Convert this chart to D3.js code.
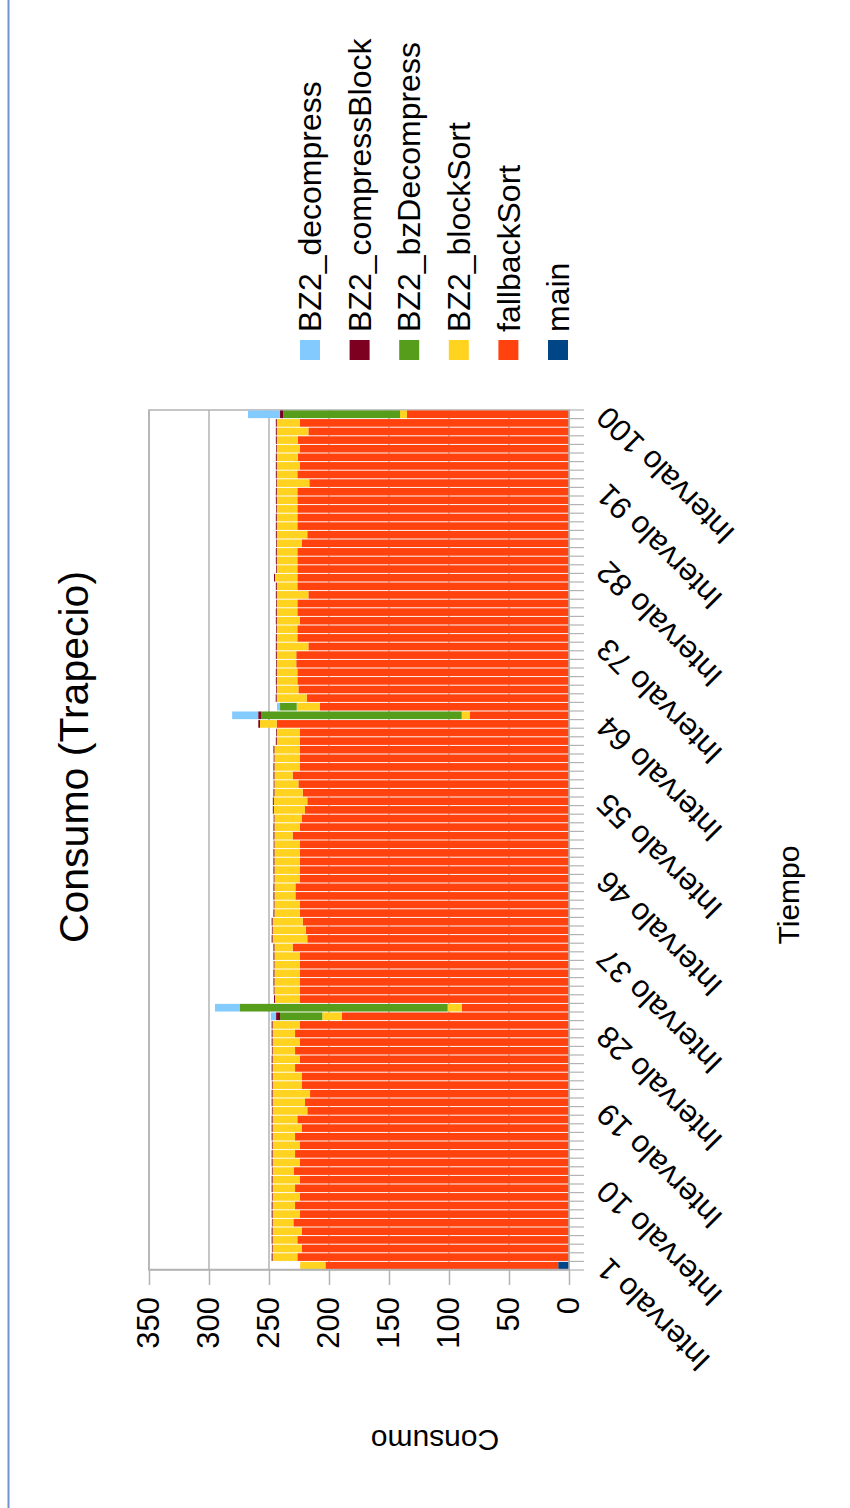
<!DOCTYPE html>
<html>
<head>
<meta charset="utf-8">
<script src="https://cdn.jsdelivr.net/npm/d3@7"></script>
<style>
  html, body { margin: 0; padding: 0; background: #ffffff; }
  svg { display: block; font-family: "Liberation Sans", Arial, sans-serif; }
</style>
</head>
<body>
<svg id="chart" width="850" height="1508"></svg>
<script>
// ---- data ----
const categories = d3.range(1, 101).map(i => "Intervalo " + i);
const shownLabels = ["Intervalo 1", "Intervalo 10", "Intervalo 19", "Intervalo 28", "Intervalo 37",
  "Intervalo 46", "Intervalo 55", "Intervalo 64", "Intervalo 73", "Intervalo 82", "Intervalo 91", "Intervalo 100"];
const valueTicks = [0, 50, 100, 150, 200, 250, 300, 350];

const seriesNames = ["main", "fallbackSort", "BZ2_blockSort", "BZ2_bzDecompress", "BZ2_compressBlock", "BZ2_decompress"];
const seriesColors = ["#004586", "#ff420e", "#ffd320", "#579d1c", "#7e0021", "#83caff"];

const mainValues = [
  9, 0, 0, 0, 0, 0, 0, 0, 0, 0,
  0, 0, 0, 0, 0, 0, 0, 0, 0, 0,
  0, 0, 0, 0, 0, 0, 0, 0, 0, 0,
  0, 0, 0, 0, 0, 0, 0, 0, 0, 0,
  0, 0, 0, 0, 0, 0, 0, 0, 0, 0,
  0, 0, 0, 0, 0, 0, 0, 0, 0, 0,
  0, 0, 0, 0, 0, 0, 0, 0, 0, 0,
  0, 0, 0, 0, 0, 0, 0, 0, 0, 0,
  0, 0, 0, 0, 0, 0, 0, 0, 0, 0,
  0, 0, 0, 0, 0, 0, 0, 0, 0, 0
];
const fallbackSortValues = [
  194, 226.4, 222.8, 226.4, 222.8, 229.7, 224.2, 228.3, 224.2, 228.3,
  224.2, 229.2, 224.2, 228.3, 224.2, 228.3, 222.8, 226.4, 218.1, 220,
  215.8, 222.8, 222.8, 228.3, 224.2, 228.3, 224.2, 228.3, 224.2, 189.4,
  89.2, 224.2, 224.2, 224.2, 224.2, 224.2, 224.2, 230.3, 218.1, 219.2,
  221.9, 224.2, 224.2, 228, 228, 224.2, 224.2, 224.2, 224.2, 224.2,
  230.3, 224.2, 222.8, 220, 218.1, 221.9, 225.5, 230.3, 224.2, 224.2,
  224.2, 224.2, 224.2, 243.6, 82.5, 207.5, 218.6, 225.5, 226.4, 226.4,
  227.3, 227.3, 217.2, 226.4, 226.4, 224.2, 226.4, 226.4, 217.2, 226.4,
  226.4, 226.4, 226.4, 226.4, 222.8, 218.1, 226.4, 226.4, 226.4, 226.4,
  226.4, 216.4, 226.4, 224.2, 226.1, 224.2, 226.1, 217.2, 224.2, 135
];
const blockSortValues = [
  21, 20.6, 24.2, 20.6, 24.2, 17.3, 22.8, 18.7, 22.8, 18.7,
  22.8, 17.8, 22.8, 18.7, 22.8, 18.7, 24.2, 20.6, 28.9, 27,
  31.2, 24.2, 24.2, 18.7, 22.8, 18.7, 22.8, 18.7, 22.8, 16.2,
  11.9, 20.8, 21.3, 21.3, 21.3, 21.3, 21.3, 15.2, 28.9, 27.8,
  25.1, 21.3, 21.3, 17.5, 17.5, 21.3, 21.3, 21.3, 21.3, 21.3,
  15.2, 21.3, 22.7, 26, 27.9, 23.6, 20, 15.2, 21.3, 21.3,
  21.3, 19.3, 19.3, 13.9, 6.9, 19.4, 25, 18, 17.1, 17.1,
  16.2, 16.2, 26.3, 17.1, 17.1, 19.3, 17.1, 17.1, 26.3, 17.1,
  18.6, 17.1, 17.1, 17.1, 20.7, 25.4, 17.1, 17.1, 17.1, 17.1,
  17.1, 27.1, 17.1, 19.3, 17.4, 19.3, 17.4, 26.3, 19.3, 5.8
];
const bzDecompressValues = [
  0, 0, 0, 0, 0, 0, 0, 0, 0, 0,
  0, 0, 0, 0, 0, 0, 0, 0, 0, 0,
  0, 0, 0, 0, 0, 0, 0, 0, 0, 35.2,
  173.1, 0, 0, 0, 0, 0, 0, 0, 0, 0,
  0, 0, 0, 0, 0, 0, 0, 0, 0, 0,
  0, 0, 0, 0, 0, 0, 0, 0, 0, 0,
  0, 0, 0, 0, 167.3, 13.9, 0, 0, 0, 0,
  0, 0, 0, 0, 0, 0, 0, 0, 0, 0,
  0, 0, 0, 0, 0, 0, 0, 0, 0, 0,
  0, 0, 0, 0, 0, 0, 0, 0, 0, 97.5
];
const compressBlockValues = [
  0, 0.8, 0.6, 0.8, 0.8, 0.6, 0.8, 0.8, 0.6, 0.8,
  0.8, 0.6, 0.8, 0.8, 0.6, 0.8, 0.8, 0.8, 0.6, 0.8,
  0.8, 0.6, 0.8, 0.8, 0.8, 0.6, 0.8, 0.8, 0.8, 3.3,
  0, 0.8, 0.6, 0.8, 0.8, 0.6, 0.8, 0.8, 0.8, 0.6,
  0.8, 0.8, 0.6, 0.8, 0.8, 0.6, 0.8, 0.8, 0.8, 0.6,
  0.8, 0.8, 0.6, 0.8, 0.8, 0.8, 0.6, 0.8, 0.8, 0.6,
  0.8, 0.8, 0.6, 1.4, 2.3, 0, 0.8, 0.6, 0.8, 0.8,
  0.6, 0.8, 0.8, 0.8, 0.6, 0.8, 0.8, 0.6, 0.8, 0.8,
  0.8, 0.6, 0.8, 0.8, 0.6, 0.8, 0.8, 0.8, 0.6, 0.8,
  0.8, 0.6, 0.8, 0.8, 0.8, 0.6, 0.8, 0.8, 0.8, 2.5
];
const decompressValues = [
  0, 0, 0, 0, 0, 0, 0, 0, 0, 0,
  0, 0, 0, 0, 0, 0, 0, 0, 0, 0,
  0, 0, 0, 0, 0, 0, 0, 0, 0, 4.4,
  20.8, 0, 0, 0, 0, 0, 0, 0, 0, 0,
  0, 0, 0, 0, 0, 0, 0, 0, 0, 0,
  0, 0, 0, 0, 0, 0, 0, 0, 0, 0,
  0, 0, 0, 0, 21.7, 2.5, 0, 0, 0, 0,
  0, 0, 0, 0, 0, 0, 0, 0, 0, 0,
  0, 0, 0, 0, 0, 0, 0, 0, 0, 0,
  0, 0, 0, 0, 0, 0, 0, 0, 0, 26.7
];

// ---- table for d3.stack ----
const seriesArrays = [mainValues, fallbackSortValues, blockSortValues, bzDecompressValues, compressBlockValues, decompressValues];
const table = categories.map((c, i) => {
  const row = { cat: c };
  seriesNames.forEach((n, k) => { row[n] = seriesArrays[k][i]; });
  return row;
});
const stacked = d3.stack().keys(seriesNames)(table);

// ---- layout: the chart is laid out landscape and turned a quarter turn ----
const svg = d3.select("#chart");
const W = 1508;
const plot = { left: 238, right: 1098, top: 149, bottom: 569 };
const font = '"Liberation Sans", Arial, sans-serif';
const gridColor = "#b3b3b3";

// page frame line
svg.append("line")
  .attr("x1", 8.5).attr("x2", 8.5).attr("y1", 0).attr("y2", 1508)
  .attr("stroke", "#7193cb").attr("stroke-width", 2);

const g = svg.append("g").attr("transform", `translate(0,${W}) rotate(-90)`);

const x = d3.scaleBand().domain(categories).range([plot.left, plot.right])
  .paddingInner(0.11).paddingOuter(0.055);
const y = d3.scaleLinear().domain([0, 350]).range([plot.bottom, plot.top]);

// grid lines
g.append("g").selectAll("line").data(valueTicks).join("line")
  .attr("x1", plot.left).attr("x2", plot.right)
  .attr("y1", d => y(d)).attr("y2", d => y(d))
  .attr("stroke", gridColor).attr("stroke-width", 1.5);

// plot frame
g.append("rect")
  .attr("x", plot.left).attr("y", plot.top)
  .attr("width", plot.right - plot.left).attr("height", plot.bottom - plot.top)
  .attr("fill", "none").attr("stroke", gridColor).attr("stroke-width", 1.5);

// stacked bars
g.append("g").selectAll("g").data(stacked).join("g")
  .attr("fill", (d, i) => seriesColors[i])
  .selectAll("rect").data(d => d).join("rect")
  .attr("x", d => x(d.data.cat))
  .attr("width", x.bandwidth())
  .attr("y", d => y(d[1]))
  .attr("height", d => Math.max(0, y(d[0]) - y(d[1])));

// value axis
const yAxis = g.append("g").attr("transform", `translate(${plot.left},0)`)
  .call(d3.axisLeft(y).tickValues(valueTicks).tickSize(15).tickSizeOuter(0).tickPadding(12));
yAxis.select(".domain").attr("stroke", gridColor).attr("stroke-width", 1.5);
yAxis.selectAll(".tick line").attr("stroke", gridColor).attr("stroke-width", 1.5);
yAxis.selectAll(".tick text").attr("font-size", 31).attr("font-family", font).attr("fill", "#000");

// category axis: line, boundary ticks, and a label every ninth interval
const boundary = d3.scaleLinear().domain([0, categories.length]).range([plot.left, plot.right]);
const xAxisG = g.append("g");
xAxisG.append("line")
  .attr("x1", plot.left).attr("x2", plot.right)
  .attr("y1", plot.bottom).attr("y2", plot.bottom)
  .attr("stroke", gridColor).attr("stroke-width", 1.5);
xAxisG.selectAll("line.bt").data(d3.range(categories.length + 1)).join("line")
  .attr("class", "bt")
  .attr("x1", d => boundary(d)).attr("x2", d => boundary(d))
  .attr("y1", plot.bottom).attr("y2", plot.bottom + 15)
  .attr("stroke", gridColor).attr("stroke-width", 1.2);
xAxisG.selectAll("text").data(shownLabels).join("text")
  .attr("transform", d => `translate(${x(d) + x.bandwidth() / 2 + 2},${plot.bottom + 33}) rotate(-45)`)
  .attr("text-anchor", "end")
  .attr("dy", "0.35em")
  .attr("font-size", 31).attr("font-family", font).attr("fill", "#000")
  .text(d => d);

// titles
g.append("text")
  .attr("x", 751).attr("y", 88)
  .attr("text-anchor", "middle")
  .attr("font-size", 41).attr("font-family", font).attr("fill", "#000")
  .text("Consumo (Trapecio)");
g.append("text")
  .attr("x", 613).attr("y", 799)
  .attr("text-anchor", "middle")
  .attr("font-size", 30).attr("font-family", font).attr("fill", "#000")
  .text("Tiempo");
g.append("text")
  .attr("transform", "translate(78,435) rotate(-90)")
  .attr("text-anchor", "middle")
  .attr("font-size", 30).attr("font-family", font).attr("fill", "#000")
  .text("Consumo");

// legend, top series first
const legendOrder = seriesNames.map((n, i) => ({ name: n, color: seriesColors[i] })).reverse();
const legend = g.append("g").selectAll("g").data(legendOrder).join("g")
  .attr("transform", (d, i) => `translate(1148,${310 + i * 49.6})`);
legend.append("rect")
  .attr("x", 0).attr("y", -10).attr("width", 20).attr("height", 20)
  .attr("fill", d => d.color);
legend.append("text")
  .attr("x", 28).attr("y", 0).attr("dy", "0.35em")
  .attr("font-size", 32).attr("font-family", font).attr("fill", "#000")
  .text(d => d.name);
</script>
</body>
</html>
